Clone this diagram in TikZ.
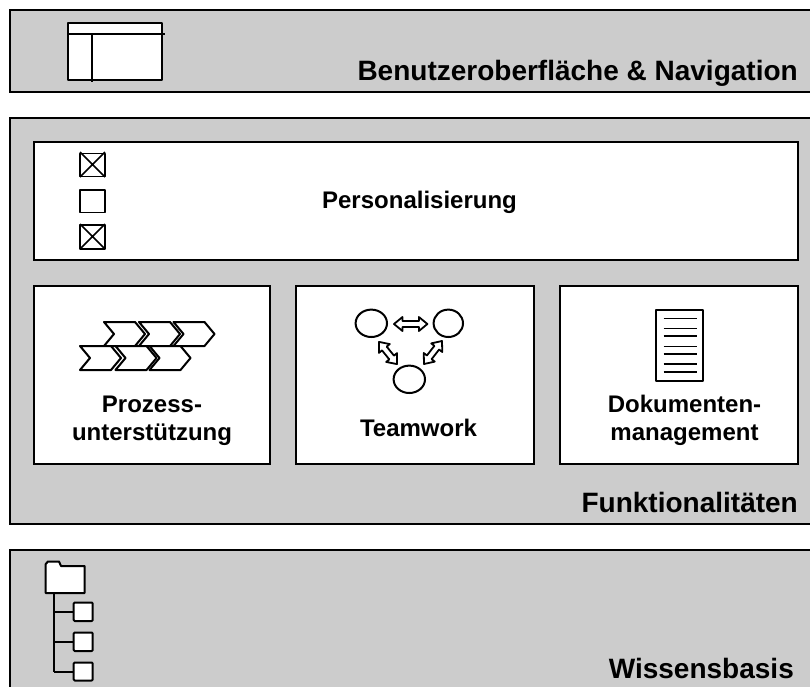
\documentclass[tikz,border=0pt]{standalone}
\usepackage{fontspec}
\setmainfont{Liberation Sans}
\tikzset{
  panel/.style={draw=black,line width=1.3pt,fill=panelgrey},
  whitebox/.style={draw=black,line width=1.5pt,fill=white},
  icon/.style={draw=black,line width=2pt,fill=white,line join=round},
  iconline/.style={draw=black,line width=2pt},
  biglabel/.style={font=\fontsize{28}{32}\selectfont\bfseries,anchor=base east,inner sep=0pt},
  smalllabel/.style={font=\fontsize{24}{28}\selectfont\bfseries,anchor=base,inner sep=0pt,align=center},
}
\definecolor{panelgrey}{HTML}{CCCCCC}
\newcommand{\chevron}[2]{%
  \draw[icon] (#1,#2) -- ++(31,0) -- ++(10,12) -- ++(-10,12) -- ++(-31,0) -- ++(10,-12) -- cycle;}
\newcommand{\blockarrow}[4]{%
  \begin{scope}[shift={(#1,#2)},rotate=#3]
    \draw[icon,line width=1.8pt] (-#4,0) -- ++(8.5,7) -- ++(0,-4) -- (#4-8.5,3) -- ++(0,4) -- (#4,0) -- ++(-8.5,-7) -- ++(0,4) -- (-#4+8.5,-3) -- ++(0,-4) -- cycle;
  \end{scope}}
\begin{document}
\begin{tikzpicture}[x=1pt,y=-1pt]
\path[use as bounding box,fill=white] (0,0) rectangle (810,686);
% panels
\path[panel] (10,10) rectangle (830,92);
\path[panel] (10,118) rectangle (830,524);
\path[panel] (10,550) rectangle (830,720);
% window icon
\draw[icon] (68,23) rectangle (162,80);
\draw[iconline] (68,34) -- (165,34);
\draw[iconline] (92,34) -- (92,82);
\node[biglabel] (ui) at (798,80) {Benutzeroberfläche \& Navigation};
% personalisation
\path[whitebox] (34,142) rectangle (798,260);
\draw[icon,line width=1.6pt] (80,153.5) rectangle (105,176.5);
\draw[iconline,line width=1.6pt] (80,152) -- (105,177) (105,152) -- (80,177);
\draw[icon,line width=1.6pt] (80,190) rectangle (105,212.5);
\draw[icon,line width=1.6pt] (80,225) rectangle (105,249);
\draw[iconline,line width=1.6pt] (80,224) -- (105,249) (105,224) -- (80,249);
\node[smalllabel] (pers) at (419.5,208) {Personalisierung};
% three boxes
\path[whitebox] (34,286) rectangle (270,464);
\path[whitebox] (296,286) rectangle (534,464);
\path[whitebox] (560,286) rectangle (798,464);
% chevrons
\chevron{104}{322}\chevron{139}{322}\chevron{173.5}{322}
\chevron{80}{346}\chevron{115.5}{346}\chevron{149.5}{346}
\node[smalllabel] (proz) at (152,440) {Prozess-\\unterstützung};
% teamwork
\draw[icon] (371.3,323.3) ellipse [x radius=15.7,y radius=13.7];
\draw[icon] (448.3,323.3) ellipse [x radius=14.7,y radius=13.7];
\draw[icon] (409.3,379.3) ellipse [x radius=15.7,y radius=13.7];
\blockarrow{410.7}{324}{0}{16.7}
\blockarrow{388}{353}{-51}{14.3}
\blockarrow{433}{352.5}{52}{14.6}
\node[smalllabel] (team) at (418.5,436) {Teamwork};
% document
\draw[icon] (655.7,310) rectangle (703,381);
\foreach \yy in {318.3,328.3,336,346.3,354,364,372}
  \draw[iconline,line width=1.5pt] (663.7,\yy) -- (697.3,\yy);
\node[smalllabel] (doku) at (684.5,440) {Dokumenten-\\management};
\node[biglabel] (funk) at (798,512) {Funktionalitäten};
% folder tree
\draw[iconline] (54,593) -- (54,672);
\draw[iconline] (54,612) -- (74,612) (54,642) -- (74,642) (54,672) -- (74,672);
\draw[icon] (45.7,593) -- (45.7,564) -- (48,561.5) -- (59,561.5) -- (61,566) -- (84.7,566) -- (84.7,593) -- cycle;
\draw[icon,rounded corners=1pt] (73.7,602.5) rectangle (92.7,621);
\draw[icon,rounded corners=1pt] (73.7,632.5) rectangle (92.7,651);
\draw[icon,rounded corners=1pt] (73.7,662.5) rectangle (92.7,680.5);
\node[biglabel] (wiss) at (794,678) {Wissensbasis};
\end{tikzpicture}
\end{document}
